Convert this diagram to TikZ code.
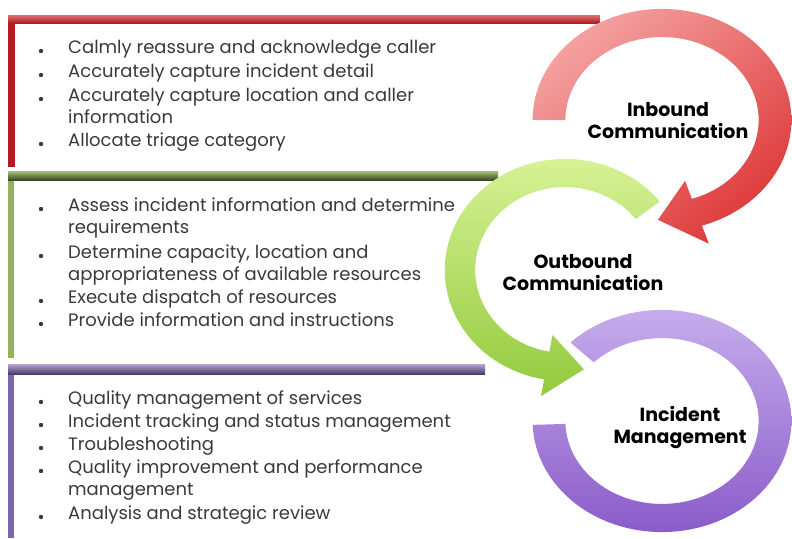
\documentclass[tikz,border=0pt]{standalone}
\usepackage{fontspec}
\setmainfont{Poppins}
\definecolor{txt}{HTML}{3A3A3A}
\definecolor{redbar}{HTML}{B01C22}
\definecolor{redbarL}{HTML}{E07070}
\definecolor{grnbar}{HTML}{3C4826}
\definecolor{grnbarL}{HTML}{A6C472}
\definecolor{grnleft}{HTML}{93B35C}
\definecolor{purbar}{HTML}{4A3C68}
\definecolor{purbarL}{HTML}{B8A4D8}
\definecolor{purleft}{HTML}{7E66A8}
\definecolor{redA}{HTML}{F4A0A0}
\definecolor{redB}{HTML}{DE3A3A}
\definecolor{grnA}{HTML}{DAF49A}
\definecolor{grnB}{HTML}{92CA3C}
\definecolor{purA}{HTML}{C8B0EE}
\definecolor{purB}{HTML}{8858C8}
\tikzset{
  item/.style={anchor=mid west, inner sep=0pt, text=txt, font=\fontsize{18}{21}\selectfont},
  ringlabel/.style={align=center, inner sep=0pt, text=black, font=\bfseries\fontsize{19}{22}\selectfont},
  dot/.style={fill=txt}
}
\begin{document}
\begin{tikzpicture}[x=1pt,y=1pt]
\useasboundingbox (0,0) rectangle (792,-538);
\fill[white] (0,0) rectangle (792,-538);

% box frames
\fill[redbar] (8,-16) rectangle (15,-167);
\shade[top color=redbarL, bottom color=redbar] (8,-15) rectangle (600,-23);
\fill[grnleft] (8,-172) rectangle (14,-358);
\shade[top color=grnbarL, bottom color=grnbar] (8,-171) rectangle (498,-180);
\fill[purleft] (8,-365) rectangle (14,-538);
\shade[top color=purbarL, bottom color=purbar] (8,-364) rectangle (485,-374);

% purple ring
\begin{scope}[shift={(662,-421)}, xscale=1.13, yscale=0.97]
\shade[top color=purA, bottom color=purB]
  (135:114.5) arc[start angle=135, end angle=-178, radius=114.5]
  -- (-178:85.5) arc[start angle=-178, end angle=135, radius=85.5] -- cycle;
\end{scope}
% green ring
\begin{scope}[shift={(565,-270)}, xscale=1.05, yscale=0.97]
\shade[top color=grnA, bottom color=grnB]
  (38:114.5) arc[start angle=38, end angle=260, radius=114.5]
  -- (260:132) -- (280:104) -- (260:68)
  -- (260:85.5) arc[start angle=260, end angle=38, radius=85.5] -- cycle;
\end{scope}
% red ring
\begin{scope}[shift={(662,-120)}, xscale=1.13, yscale=0.97]
\shade[top color=redA, bottom color=redB, shading angle=40]
  (180:114.5) arc[start angle=180, end angle=-72, radius=114.5]
  -- (-72:134) -- (-92:103) -- (-72:66)
  -- (-72:85.5) arc[start angle=-72, end angle=180, radius=85.5] -- cycle;
\end{scope}

% ring labels
\node[ringlabel] (inb) at (668,-121) {Inbound\\Communication};
\node[ringlabel] (outb) at (583,-273) {Outbound\\Communication};
\node[ringlabel] (incm) at (680,-427) {Incident\\Management};

% red box items
\node[item] (r1) at (68,-51) {Calmly reassure and acknowledge caller};
\node[item] (r2) at (68,-75) {Accurately capture incident detail};
\node[item] (r3) at (68,-99) {Accurately capture location and caller};
\node[item] (r3b) at (68,-121) {information};
\node[item] (r4) at (68,-144) {Allocate triage category};
% green box items
\node[item] (g1) at (68,-209) {Assess incident information and determine};
\node[item] (g1b) at (68,-231) {requirements};
\node[item] (g2) at (68,-256) {Determine capacity, location and};
\node[item] (g2b) at (68,-278) {appropriateness of available resources};
\node[item] (g3) at (68,-301) {Execute dispatch of resources};
\node[item] (g4) at (68,-324) {Provide information and instructions};
% purple box items
\node[item] (p1) at (68,-402) {Quality management of services};
\node[item] (p2) at (68,-425) {Incident tracking and status management};
\node[item] (p3) at (68,-448) {Troubleshooting};
\node[item] (p4) at (68,-471) {Quality improvement and performance};
\node[item] (p4b) at (68,-493) {management};
\node[item] (p5) at (68,-517) {Analysis and strategic review};

% bullets
\foreach \yy in {51,75,99,144,209,256,301,324,402,425,448,471,517}
  \fill[dot] (41,-\yy) circle (2.2);
\end{tikzpicture}
\end{document}
